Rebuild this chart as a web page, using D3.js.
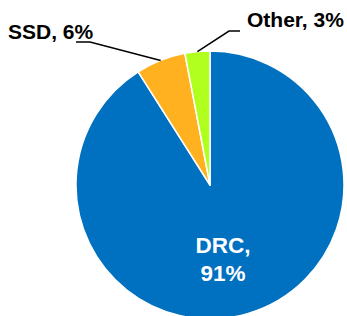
<!DOCTYPE html>
<html>
<head>
<meta charset="utf-8">
<script src="https://cdn.jsdelivr.net/npm/d3@7"></script>
<style>
  html, body { margin: 0; padding: 0; background: #fff; }
  svg { display: block; }
</style>
</head>
<body>
<div id="chart"></div>
<script>
// Share by country of origin
var categories = ["DRC", "SSD", "Other"];
var shares = [91, 6, 3];
var colors = ["#0070C0", "#FFB11F", "#B0FF1F"];

var width = 347;
var height = 316;
var cx = 210;
var cy = 185;
var radius = 134;

var svg = d3.select("#chart")
  .append("svg")
  .attr("width", width)
  .attr("height", height);

var data = categories.map(function(c, i) {
  return { name: c, value: shares[i], color: colors[i] };
});

var pie = d3.pie()
  .sort(null)
  .value(function(d) { return d.value; });

var arc = d3.arc().innerRadius(0).outerRadius(radius);
var edge = d3.arc().innerRadius(radius).outerRadius(radius);

var g = svg.append("g")
  .attr("transform", "translate(" + cx + "," + cy + ")");

var slices = pie(data);

g.selectAll("path.slice")
  .data(slices)
  .enter()
  .append("path")
  .attr("class", "slice")
  .attr("d", arc)
  .attr("fill", function(d) { return d.data.color; })
  .attr("stroke", "#fff")
  .attr("stroke-width", 1.5)
  .attr("stroke-linejoin", "round");

// label for the big slice sits inside
var big = g.append("text")
  .attr("text-anchor", "middle")
  .attr("font-family", "Liberation Sans, Arial, sans-serif")
  .attr("font-weight", "bold")
  .attr("font-size", 22.5)
  .attr("fill", "#fff");
big.append("tspan").attr("x", 13).attr("y", 68).text(slices[0].data.name + ",");
big.append("tspan").attr("x", 13).attr("y", 96).text(slices[0].data.value + "%");

// outside labels with leader lines
var outside = [
  { i: 1, elbow: [-120, -143], tail: [-134, -143], tx: -202, ty: -146 },
  { i: 2, elbow: [19, -154], tail: [30, -154], tx: 37, ty: -158 }
];

outside.forEach(function(o) {
  var s = slices[o.i];
  var p = edge.centroid(s);
  g.append("polyline")
    .attr("points", [p, o.elbow, o.tail].map(function(q) { return q.join(","); }).join(" "))
    .attr("fill", "none")
    .attr("stroke", "#000")
    .attr("stroke-width", 1.5);
  g.append("text")
    .attr("x", o.tx)
    .attr("y", o.ty)
    .attr("font-family", "Liberation Sans, Arial, sans-serif")
    .attr("font-weight", "bold")
    .attr("font-size", 21)
    .attr("fill", "#000")
    .text(s.data.name + ", " + s.data.value + "%");
});
</script>
</body>
</html>
